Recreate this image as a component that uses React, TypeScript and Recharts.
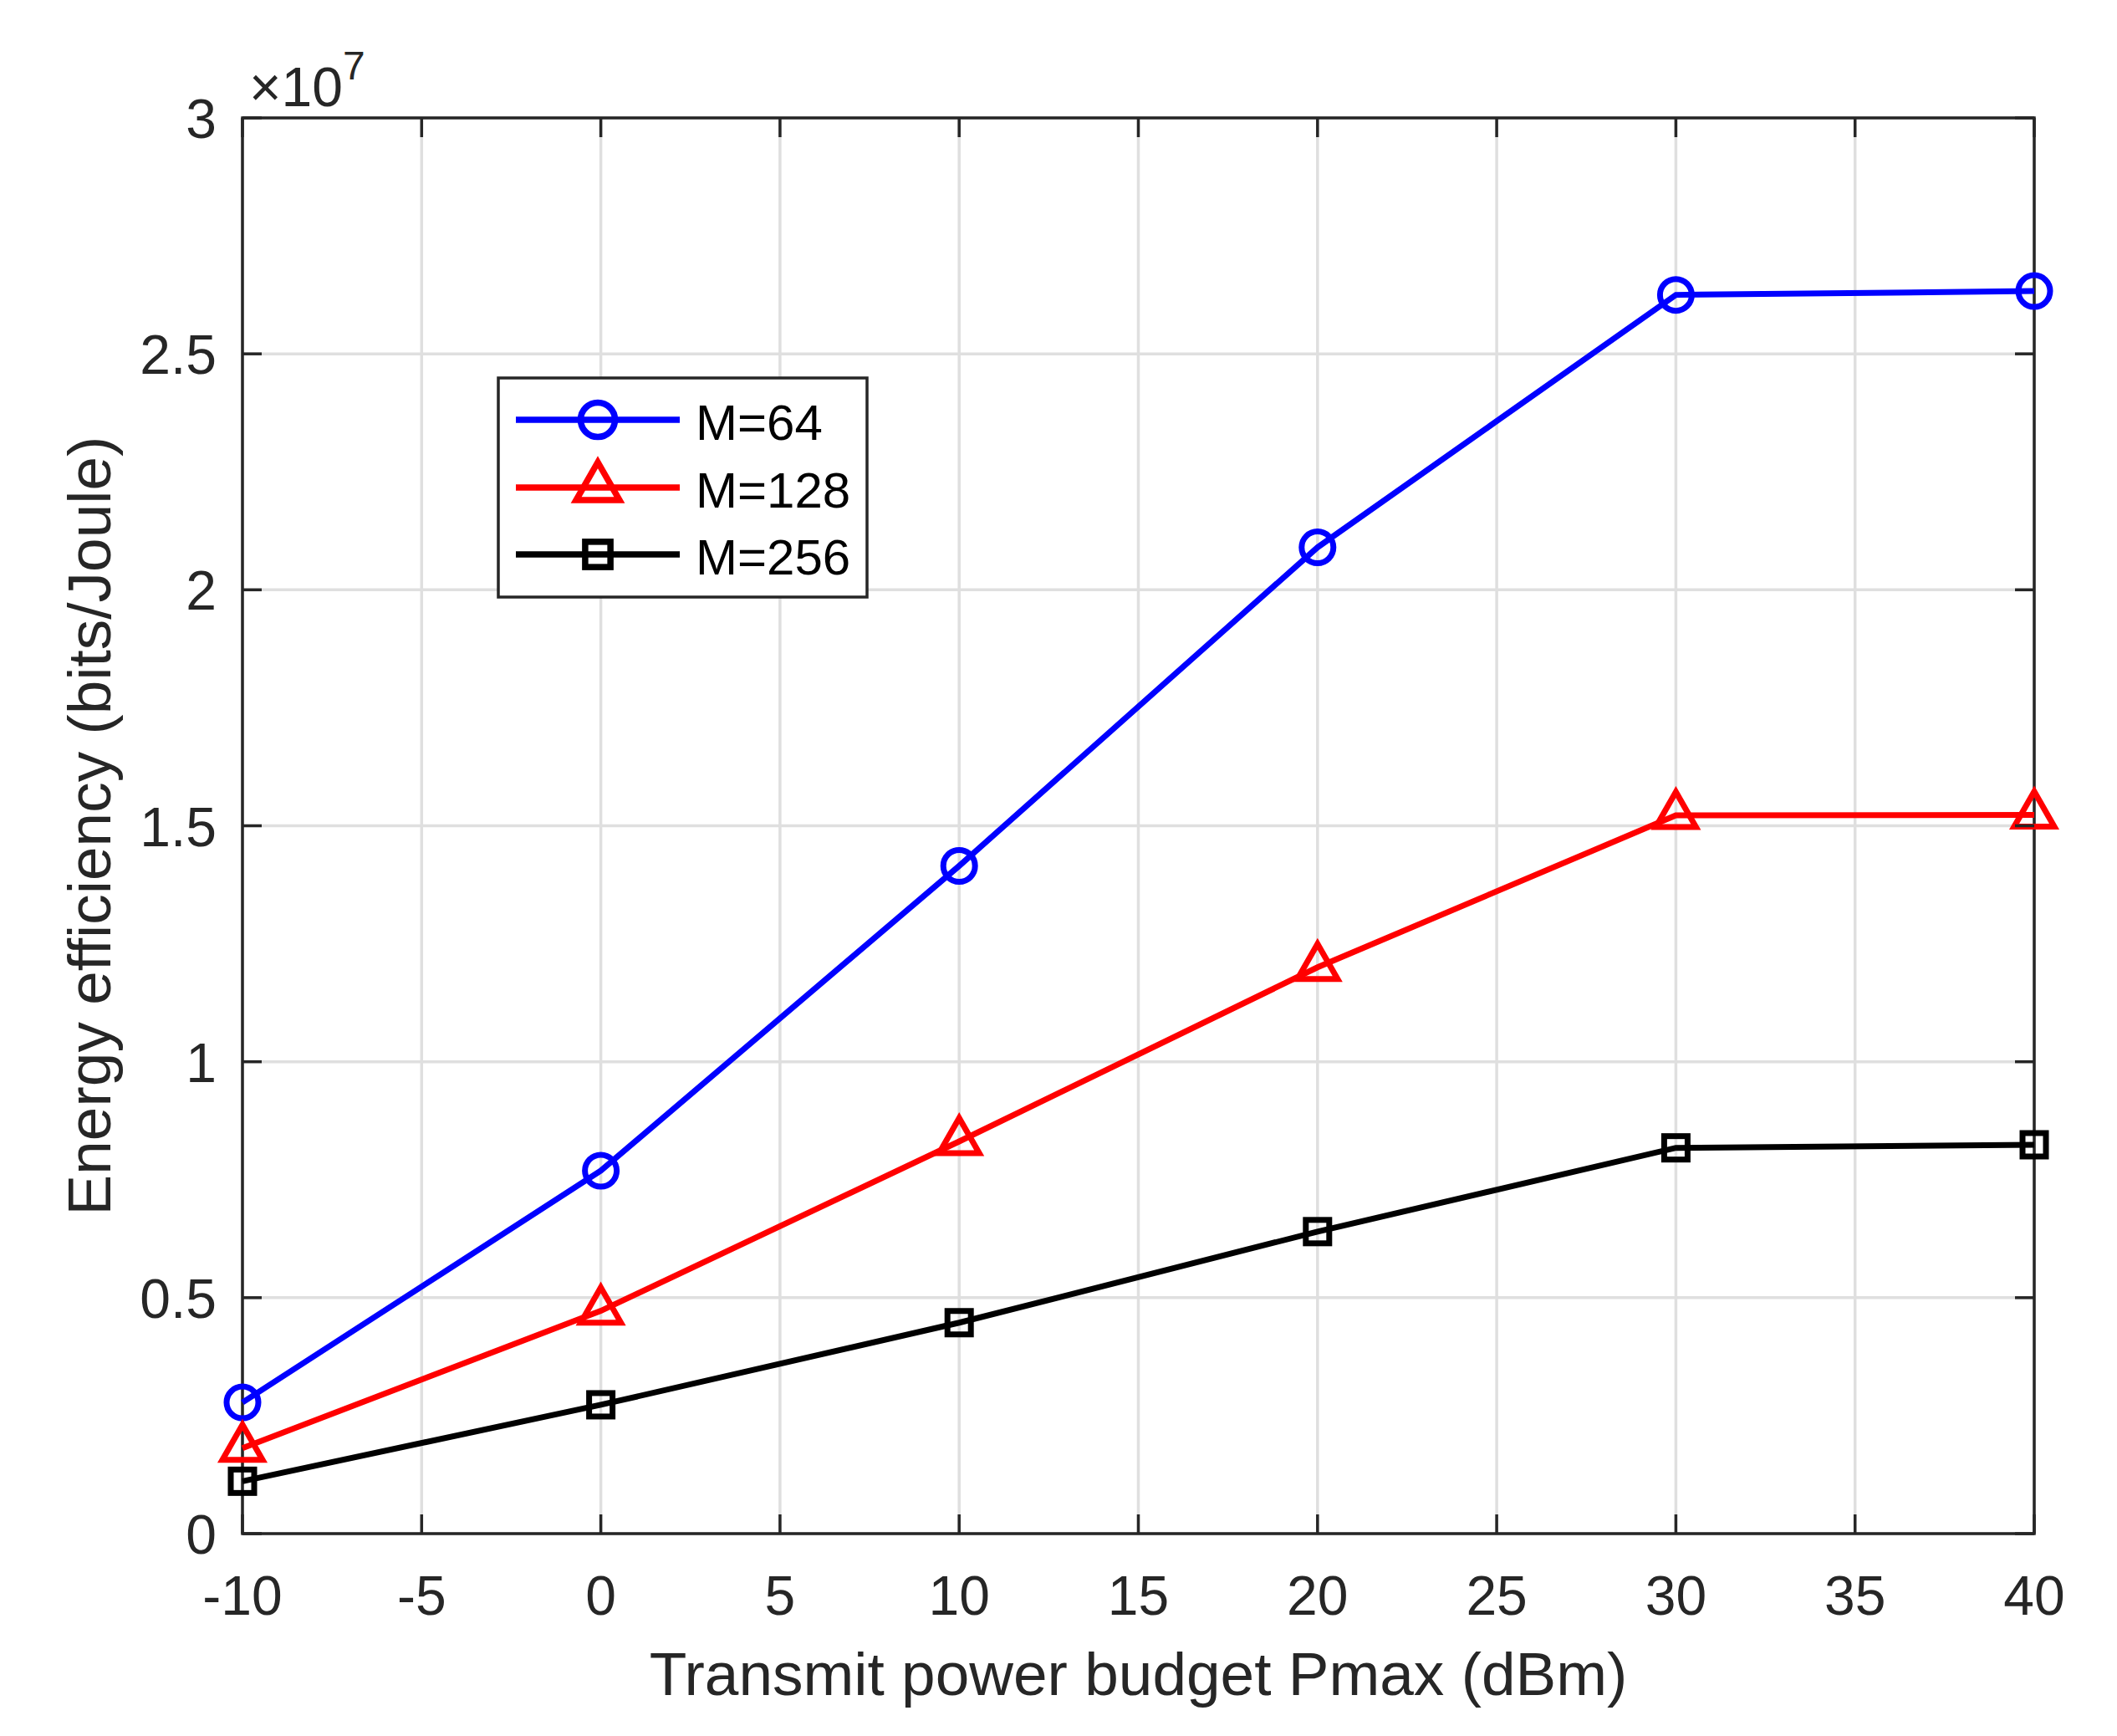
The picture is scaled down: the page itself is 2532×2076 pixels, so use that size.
import React from 'react';
import { LineChart, Line, XAxis, YAxis, CartesianGrid, ReferenceArea } from 'recharts';

// Energy efficiency vs transmit power budget, values in units of 1e7 bits/Joule.
const POWER_DBM = [-10, 0, 10, 20, 30, 40];
const EE_M64 = [0.278, 0.769, 1.415, 2.09, 2.625, 2.633];
const EE_M128 = [0.181, 0.472, 0.831, 1.2, 1.522, 1.523];
const EE_M256 = [0.111, 0.273, 0.447, 0.64, 0.8175, 0.824];

const X_TICKS = [-10, -5, 0, 5, 10, 15, 20, 25, 30, 35, 40];
const Y_TICKS = [0, 0.5, 1, 1.5, 2, 2.5, 3];
const Y_TICK_LABELS = ['0', '0.5', '1', '1.5', '2', '2.5', '3'];

const SERIES = [
  { key: 'm64', name: 'M=64', color: '#0000ff', marker: 'circle' },
  { key: 'm128', name: 'M=128', color: '#ff0000', marker: 'triangle' },
  { key: 'm256', name: 'M=256', color: '#000000', marker: 'square' },
];

const data = POWER_DBM.map((p, i) => ({
  p,
  m64: EE_M64[i],
  m128: EE_M128[i],
  m256: EE_M256[i],
}));

/* layout (px) */
const W = 2532;
const H = 2076;
const PLOT_L = 290;
const PLOT_R = 2433;
const PLOT_T = 141;
const PLOT_B = 1834;
const Y_AXIS_W = 150;
const X_AXIS_H = 120;
const TICK_LEN = 23;

const AXIS_COLOR = '#262626';
const GRID_COLOR = '#dfdfdf';
const FONT = '"Liberation Sans", Arial, Helvetica, sans-serif';
const TICK_FONT = 66;

function Marker({ kind, cx, cy, color, scale = 1, sw = 7 }: {
  kind: string; cx: number; cy: number; color: string; scale?: number; sw?: number;
}) {
  if (kind === 'circle') {
    return <circle cx={cx} cy={cy} r={19 * scale} fill="none" stroke={color} strokeWidth={sw} />;
  }
  if (kind === 'triangle') {
    const hw = 24 * scale;
    const up = 28 * scale;
    const dn = 14 * scale;
    return (
      <polygon
        points={`${cx},${cy - up} ${cx + hw},${cy + dn} ${cx - hw},${cy + dn}`}
        fill="none"
        stroke={color}
        strokeWidth={sw}
        strokeLinejoin="miter"
      />
    );
  }
  const h = 14 * scale;
  return <rect x={cx - h} y={cy - h} width={2 * h} height={2 * h} fill="none" stroke={color} strokeWidth={sw} />;
}

function XTick(props: any) {
  const { x, payload } = props;
  return (
    <g>
      <line x1={x} x2={x} y1={PLOT_B} y2={PLOT_B - TICK_LEN} stroke={AXIS_COLOR} strokeWidth={3.5} />
      <line x1={x} x2={x} y1={PLOT_T} y2={PLOT_T + TICK_LEN} stroke={AXIS_COLOR} strokeWidth={3.5} />
      <text x={x} y={PLOT_B + 97} textAnchor="middle" fontSize={TICK_FONT} fill={AXIS_COLOR} fontFamily={FONT}>
        {String(payload.value)}
      </text>
    </g>
  );
}

function YTick(props: any) {
  const { y, payload } = props;
  const idx = Y_TICKS.indexOf(payload.value);
  return (
    <g>
      <line x1={PLOT_L} x2={PLOT_L + TICK_LEN} y1={y} y2={y} stroke={AXIS_COLOR} strokeWidth={3.5} />
      <line x1={PLOT_R} x2={PLOT_R - TICK_LEN} y1={y} y2={y} stroke={AXIS_COLOR} strokeWidth={3.5} />
      <text x={PLOT_L - 31} y={y + 24} textAnchor="end" fontSize={TICK_FONT} fill={AXIS_COLOR} fontFamily={FONT}>
        {idx >= 0 ? Y_TICK_LABELS[idx] : String(payload.value)}
      </text>
    </g>
  );
}

function Overlay() {
  const legX = 596;
  const legY = 452;
  const rows = [502, 583, 663];
  return (
    <svg
      width={W}
      height={H}
      style={{ position: 'absolute', left: 0, top: 0, pointerEvents: 'none' }}
      fontFamily={FONT}
    >
      {/* exponent */}
      <text x={298} y={127} fontSize={66} fill={AXIS_COLOR}>
        ×10<tspan dy={-32} fontSize={48}>7</tspan>
      </text>

      {/* axis titles */}
      <text x={(PLOT_L + PLOT_R) / 2} y={2027} textAnchor="middle" fontSize={73} fill={AXIS_COLOR}>
        Transmit power budget Pmax (dBm)
      </text>
      <text
        x={132}
        y={(PLOT_T + PLOT_B) / 2}
        textAnchor="middle"
        fontSize={73}
        fill={AXIS_COLOR}
        transform={`rotate(-90 132 ${(PLOT_T + PLOT_B) / 2})`}
      >
        Energy efficiency (bits/Joule)
      </text>

      {/* legend */}
      <rect x={legX} y={legY} width={441} height={262} fill="#ffffff" stroke={AXIS_COLOR} strokeWidth={3.5} />
      {SERIES.map((s, i) => (
        <g key={s.key}>
          <line x1={617} x2={813} y1={rows[i]} y2={rows[i]} stroke={s.color} strokeWidth={7.5} />
          <Marker kind={s.marker} cx={715} cy={rows[i]} color={s.color} scale={1.08} sw={7.5} />
          <text x={832} y={rows[i] + 24} fontSize={60} fill="#000000">
            {s.name}
          </text>
        </g>
      ))}
    </svg>
  );
}

export default function App() {
  return (
    <div style={{ position: 'absolute', left: 0, top: 0, width: W, height: H, background: '#ffffff' }}>
      <LineChart
        width={W}
        height={H}
        data={data}
        margin={{
          top: PLOT_T,
          right: W - PLOT_R,
          bottom: H - PLOT_B - X_AXIS_H,
          left: PLOT_L - Y_AXIS_W,
        }}
      >
        <CartesianGrid stroke={GRID_COLOR} strokeWidth={3.5} />
        <XAxis
          dataKey="p"
          type="number"
          domain={[-10, 40]}
          ticks={X_TICKS}
          interval={0}
          height={X_AXIS_H}
          axisLine={false}
          tickLine={false}
          tick={<XTick />}
        />
        <YAxis
          type="number"
          domain={[0, 3]}
          ticks={Y_TICKS}
          interval={0}
          width={Y_AXIS_W}
          axisLine={false}
          tickLine={false}
          tick={<YTick />}
        />
        <ReferenceArea
          x1={-10}
          x2={40}
          y1={0}
          y2={3}
          fill="none"
          fillOpacity={0}
          stroke={AXIS_COLOR}
          strokeWidth={3.5}
          ifOverflow="visible"
        />
        {SERIES.map((s) => (
          <Line
            key={s.key}
            type="linear"
            dataKey={s.key}
            name={s.name}
            stroke={s.color}
            strokeWidth={7}
            isAnimationActive={false}
            dot={(props: any) => (
              <Marker key={`${s.key}-${props.index}`} kind={s.marker} cx={props.cx} cy={props.cy} color={s.color} />
            )}
            activeDot={false}
          />
        ))}
      </LineChart>
      <Overlay />
    </div>
  );
}
